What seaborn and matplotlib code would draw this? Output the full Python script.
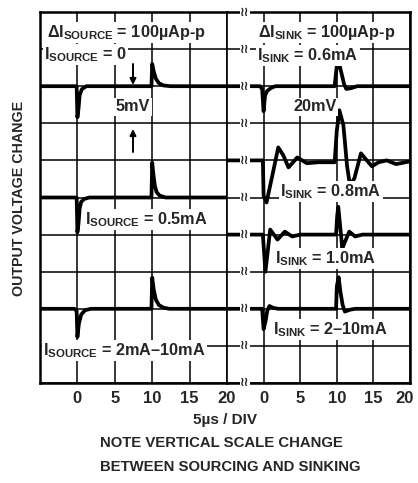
import numpy as np
import pandas as pd
import matplotlib
matplotlib.use("Agg")
import matplotlib.pyplot as plt
import matplotlib.transforms as mtransforms
import seaborn as sns

# time in us, output change in mV relative to the trace baseline
# sourcing side (5mV/DIV)
src_0_t = [-5, -0.1, 0, 0.15, 0.3, 0.6, 1.2, 9.9, 10, 10.2, 10.5, 10.9, 11.5, 12.5, 20]
src_0_v = [0, 0, -4.2, -3.0, -1.2, -0.4, 0, 0, 3.0, 2.0, 1.0, 0.4, 0.1, 0, 0]

src_05_t = [-5, -0.1, 0, 0.15, 0.3, 0.5, 0.9, 1.6, 9.9, 10, 10.15, 10.35, 10.6, 11.0, 11.8, 20]
src_05_v = [0, 0, -4.7, -3.5, -1.5, -0.6, -0.2, 0, 0, 4.7, 3.2, 1.6, 0.7, 0.25, 0, 0]

src_2_t = [-5, -0.4, -0.1, 0, 0.2, 0.5, 1.0, 1.8, 9.9, 10, 10.2, 10.5, 10.9, 11.5, 12.3, 20]
src_2_v = [0, 0, -0.3, -3.8, -2.0, -0.8, -0.2, 0, 0, 4.2, 2.6, 1.2, 0.5, 0.15, 0, 0]

# sinking side (20mV/DIV)
snk_06_t = [-5, -0.5, -0.2, 0, 0.2, 0.5, 1.0, 1.6, 9.7, 10.0, 10.3, 10.7, 11.0, 11.3, 12.0, 12.8, 20]
snk_06_v = [0, 0, -1.5, -13.5, -5, -2.5, -1, 0, 0, 11, 12.5, 6, 1, -1.5, -1, 0, 0]

snk_08_t = [-5, -0.1, 0, 0.4, 1.2, 2.0, 2.7, 3.4, 4.6, 5.9, 7.5, 9.7, 10.0, 10.35, 10.9,
            11.4, 11.8, 12.4, 13.3, 14.1, 14.8, 15.7, 16.8, 18.1, 20]
snk_08_v = [0, 0, -19, -22.7, -8, 7, 2.7, -3.8, 1.6, -1.5, -1, -1, 16, 27, 19,
            -3, -13.5, -9.7, 3.8, 0, -3.2, -1, 0, -2, -0.5]

snk_10_t = [-5, -0.1, 0.25, 0.9, 1.9, 2.9, 3.9, 5.0, 9.9, 10.05, 10.2, 10.45, 10.75, 11.1,
            11.7, 12.5, 13.5, 20]
snk_10_v = [0, 0, -20, 2.7, -2.7, 1.6, -1, 0, 0, 10, 15, 5, -7.5, -4, 1.6, -1, 0, 0]

snk_2_t = [-5, -0.2, 0, 0.3, 0.5, 0.8, 1.3, 2.0, 9.9, 10.0, 10.25, 10.5, 10.8, 11.1, 11.8, 12.5, 20]
snk_2_v = [0, 0, -11, -6, -1, 1.5, 0.5, 0, 0, 12, 17, 9, 2, -1.5, -0.5, 0, 0]

src_names = ["0", "0.5mA", "2mA-10mA"]
src_offsets = [40, 25, 10]          # mV on a 0..50 mV screen
snk_names = ["0.6mA", "0.8mA", "1.0mA", "2-10mA"]
snk_offsets = [160, 120, 80, 40]    # mV on a 0..200 mV screen

time_ticks = [0, 5, 10, 15, 20]

W, H = 418, 483


def build_frame(ts, vs, offsets, names):
    parts = []
    for t, v, off, name in zip(ts, vs, offsets, names):
        parts.append(pd.DataFrame({"t": t, "v": np.array(v) + off, "trace": name}))
    return pd.concat(parts, ignore_index=True)


src_df = build_frame([src_0_t, src_05_t, src_2_t], [src_0_v, src_05_v, src_2_v],
                     src_offsets, src_names)
snk_df = build_frame([snk_06_t, snk_08_t, snk_10_t, snk_2_t],
                     [snk_06_v, snk_08_v, snk_10_v, snk_2_v], snk_offsets, snk_names)

sns.set_style("white")
plt.rcParams["font.family"] = ["Liberation Sans", "DejaVu Sans"]
plt.rcParams["font.weight"] = "bold"
plt.rcParams["mathtext.fontset"] = "custom"
plt.rcParams["mathtext.rm"] = "Liberation Sans:bold"
plt.rcParams["mathtext.it"] = "Liberation Sans:bold"
plt.rcParams["mathtext.bf"] = "Liberation Sans:bold"

fig = plt.figure(figsize=(W / 100, H / 100), dpi=100)


def fx(x):
    return x / W


def fy(y):
    return 1 - y / H


left, right, top, bottom, mid = 40, 410, 12, 383, 227
ax1 = fig.add_axes([fx(left), fy(bottom), (mid - left) / W, (bottom - top) / H])
ax2 = fig.add_axes([fx(mid), fy(bottom), (right - mid) / W, (bottom - top) / H])

for ax, df, ymax in [(ax1, src_df, 50), (ax2, snk_df, 200)]:
    ax.set_xlim(-5, 20)
    ax.set_ylim(0, ymax)
    ax.set_xticks(time_ticks)
    ax.set_xticklabels([str(t) for t in time_ticks], fontsize=12, fontweight="bold")
    ax.set_yticks(np.linspace(0, ymax, 11))
    ax.set_yticklabels([])
    ax.grid(True, color="black", lw=1.1)
    ax.set_axisbelow(True)
    ax.tick_params(axis="x", length=0, pad=6)
    ax.tick_params(axis="y", length=0)
    for s in ax.spines.values():
        s.set_color("black")
        s.set_linewidth(1.8)
    sns.lineplot(data=df, x="t", y="v", units="trace", estimator=None, sort=False,
                 color="black", lw=2.7, ax=ax, legend=False)
    for ln in ax.lines:
        ln.set_solid_capstyle("round")
        ln.set_solid_joinstyle("round")
    ax.set_xlabel("")
    ax.set_ylabel("")

ax1.spines["right"].set_visible(False)
ax2.spines["left"].set_linewidth(1.2)
ax1.tick_params(axis="y", length=3, direction="out", width=1.2)

# keep the last "20" inside the picture
last = ax2.get_xticklabels()[-1]
last.set_transform(last.get_transform() + mtransforms.ScaledTranslation(-4 / 72, 0, fig.dpi_scale_trans))

# break marks on the sinking grid
for k in range(11):
    y = top + k * (bottom - top) / 10
    fig.text(fx(245), fy(y), "\u2240\u2240", ha="center", va="center", fontsize=9,
             family=["DejaVu Sans"], fontweight="bold",
             bbox=dict(facecolor="white", edgecolor="none", pad=0.1))

box = dict(facecolor="white", edgecolor="none", pad=1.0)
labels = [
    (47, 37, "\u0394I$_{\\mathrm{SOURCE}}$ = 100\u00b5Ap-p"),
    (44, 59, "I$_{\\mathrm{SOURCE}}$ = 0"),
    (85, 224, "I$_{\\mathrm{SOURCE}}$ = 0.5mA"),
    (43, 355, "I$_{\\mathrm{SOURCE}}$ = 2mA\u201310mA"),
    (258, 37, "\u0394I$_{\\mathrm{SINK}}$ = 100\u00b5Ap-p"),
    (257, 60, "I$_{\\mathrm{SINK}}$ = 0.6mA"),
    (280, 196, "I$_{\\mathrm{SINK}}$ = 0.8mA"),
    (275, 263, "I$_{\\mathrm{SINK}}$ = 1.0mA"),
    (273, 334, "I$_{\\mathrm{SINK}}$ = 2\u201310mA"),
]
for x, y, s in labels:
    fig.text(fx(x), fy(y), s, ha="left", va="baseline", fontsize=11.7, bbox=box)

for x, s in [(133, "5mV"), (315, "20mV")]:
    fig.text(fx(x), fy(107), s, ha="center", va="center", fontsize=11.7, bbox=box)
    ax1.annotate("", xy=(x, H - 85), xytext=(x, H - 64), xycoords="figure pixels",
                 arrowprops=dict(arrowstyle="-|>", color="black", lw=1.4,
                                 mutation_scale=9, shrinkA=0, shrinkB=0))
    ax1.annotate("", xy=(x, H - 129), xytext=(x, H - 152), xycoords="figure pixels",
                 arrowprops=dict(arrowstyle="-|>", color="black", lw=1.4,
                                 mutation_scale=9, shrinkA=0, shrinkB=0))

fig.text(fx(19), fy(198), "OUTPUT VOLTAGE CHANGE", rotation=90, ha="center", va="center",
         fontsize=10.3, fontweight="bold")
fig.text(fx(225), fy(420), "5\u00b5s / DIV", ha="center", va="center",
         fontsize=11, fontweight="bold")
fig.text(fx(100), fy(443), "NOTE VERTICAL SCALE CHANGE", ha="left", va="center",
         fontsize=10.7, fontweight="bold")
fig.text(fx(100), fy(467), "BETWEEN SOURCING AND SINKING", ha="left", va="center",
         fontsize=10.7, fontweight="bold")

fig.savefig("out.png", dpi=100)
